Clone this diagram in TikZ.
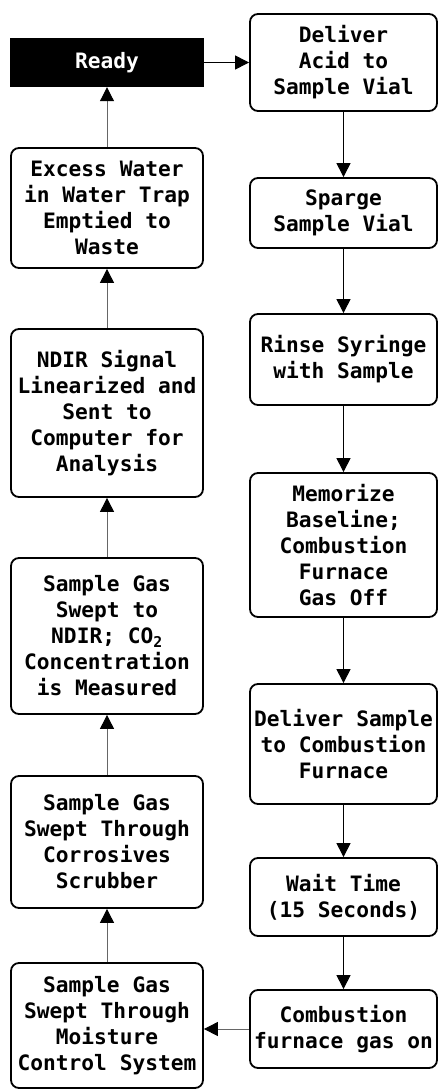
\documentclass[tikz,border=0pt]{standalone}
\usepackage{fontspec}
\newfontfamily\flowfont{DejaVu Sans Mono}
\usetikzlibrary{positioning}
\usetikzlibrary{arrows.meta}

\begin{document}
\begin{tikzpicture}[
			x=1pt, y=-1pt,
			every node/.style={font=\flowfont\bfseries\fontsize{21.2}{26}\selectfont, align=center, inner sep=0pt},
			stepbox/.style={draw, line width=1.8pt, rounded corners=8pt},
			leftbox/.style={stepbox, minimum width=192pt},
			rightbox/.style={stepbox, minimum width=187pt},
			flow/.style={-{Triangle[width=14pt,length=14pt]}, line width=1pt},
			backflow/.style={draw=black!60, line width=1pt, -{Triangle[width=14pt,length=14pt,color=black]}},
			]
			\useasboundingbox (0,0) rectangle (438,1090);
			\node[fill=black, text=white, minimum width=194pt, minimum height=49pt] (ready) at (107,62.5) {Ready};
			\node[leftbox, minimum height=120pt] (excess) at (107,208) {Excess Water\\in Water Trap\\Emptied to\\Waste};
			\node[leftbox, minimum height=168pt] (signal) at (107,413) {NDIR Signal\\Linearized and\\Sent to\\Computer for\\Analysis};
			\node[leftbox, minimum height=156pt] (ndir) at (107,636) {Sample Gas\\Swept to\\NDIR; CO\textsubscript{2}\\Concentration\\is Measured};
			\node[leftbox, minimum height=132pt] (scrub) at (107,842) {Sample Gas\\Swept Through\\Corrosives\\Scrubber};
			\node[leftbox, minimum height=125pt] (moist) at (107,1025.5) {Sample Gas\\Swept Through\\Moisture\\Control System};
			\node[rightbox, minimum height=97pt] (acid) at (343.5,62.5) {Deliver\\Acid to\\Sample Vial};
			\node[rightbox, minimum height=70pt] (sparge) at (343.5,213) {Sparge\\Sample Vial};
			\node[rightbox, minimum height=91pt] (rinse) at (343.5,359.5) {Rinse Syringe\\with Sample};
			\node[rightbox, minimum height=144pt] (memo) at (343.5,545) {Memorize\\Baseline;\\Combustion\\Furnace\\Gas Off};
			\node[rightbox, minimum height=120pt] (deliver) at (343.5,744) {Deliver Sample\\to Combustion\\Furnace};
			\node[rightbox, minimum height=78pt] (wait) at (343.5,897) {Wait Time\\(15 Seconds)};
			\node[rightbox, minimum height=78pt] (gason) at (343.5,1029) {Combustion\\furnace gas on};
			\draw[flow] (ready.east) -- (acid.west);
			\draw[flow] (acid) -- (sparge);
			\draw[flow] (sparge) -- (rinse);
			\draw[flow] (rinse) -- (memo);
			\draw[flow] (memo) -- (deliver);
			\draw[flow] (deliver) -- (wait);
			\draw[flow] (wait) -- (gason);
			\draw[backflow] (gason.west) -- (gason.west -| moist.east);
			\draw[backflow] (moist) -- (scrub);
			\draw[backflow] (scrub) -- (ndir);
			\draw[backflow] (ndir) -- (signal);
			\draw[backflow] (signal) -- (excess);
			\draw[backflow] (excess) -- (ready);
		\end{tikzpicture}
\end{document}
